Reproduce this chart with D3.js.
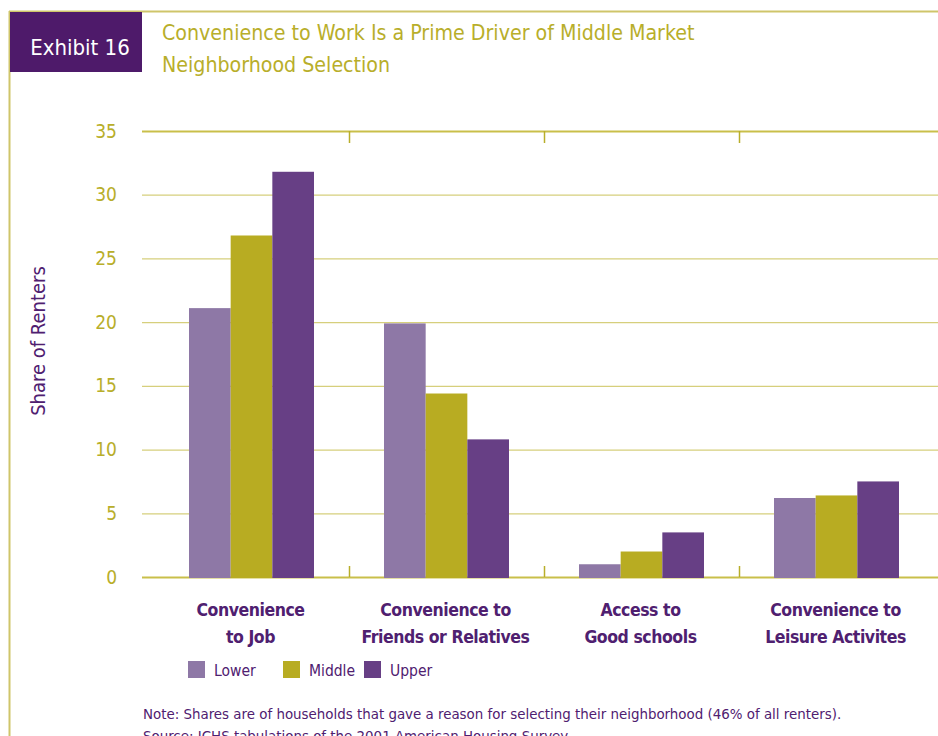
<!DOCTYPE html>
<html>
<head>
<meta charset="utf-8">
<script src="https://cdn.jsdelivr.net/npm/d3@7"></script>
<style>
  body { margin: 0; background: #fff; }
  text { font-family: "DejaVu Sans Condensed", "DejaVu Sans", sans-serif; }
</style>
</head>
<body>
<div id="chart"></div>
<script>
// chart data
var categories = [
  ["Convenience", "to Job"],
  ["Convenience to", "Friends or Relatives"],
  ["Access to", "Good schools"],
  ["Convenience to", "Leisure Activites"]
];
var seriesNames = ["Lower", "Middle", "Upper"];
var lowerValues = [21.1, 19.9, 1.0, 6.2];
var middleValues = [26.8, 14.4, 2.0, 6.4];
var upperValues = [31.8, 10.8, 3.5, 7.5];
var yTicks = [0, 5, 10, 15, 20, 25, 30, 35];

var colors = { Lower: "#8e78a6", Middle: "#b8ac22", Upper: "#673f85" };
var gold = "#b8ae2a";
var purpleText = "#4f2070";

var svgWidth = 938, svgHeight = 736;

var svg = d3.select("#chart").append("svg")
  .attr("width", svgWidth)
  .attr("height", svgHeight);

// frame lines
svg.append("line").attr("x1", 9).attr("x2", svgWidth).attr("y1", 11.5).attr("y2", 11.5)
  .attr("stroke", "#cfc56a").attr("stroke-width", 2);
svg.append("line").attr("x1", 9.5).attr("x2", 9.5).attr("y1", 11).attr("y2", svgHeight)
  .attr("stroke", "#cfc56a").attr("stroke-width", 2);

// exhibit box
svg.append("rect").attr("x", 10).attr("y", 12).attr("width", 132).attr("height", 60)
  .attr("fill", "#4e1a6a");
svg.append("text").attr("x", 80).attr("y", 55).attr("text-anchor", "middle")
  .attr("fill", "#fff").attr("font-size", 22).text("Exhibit 16");

// title
var title = svg.append("text").attr("fill", gold).attr("font-size", 21.2);
title.append("tspan").attr("x", 162).attr("y", 40)
  .text("Convenience to Work Is a Prime Driver of Middle Market");
title.append("tspan").attr("x", 162).attr("y", 72)
  .text("Neighborhood Selection");

// scales
var x0 = d3.scaleBand()
  .domain(d3.range(categories.length))
  .range([154, 934]);
var x1 = d3.scaleBand()
  .domain(seriesNames)
  .range([35, 160]);
var y = d3.scaleLinear().domain([0, 35]).range([577, 131]);

// gridlines
svg.append("g").selectAll("line").data(yTicks).enter().append("line")
  .attr("x1", 142).attr("x2", svgWidth)
  .attr("y1", d => y(d) + 0.5).attr("y2", d => y(d) + 0.5)
  .attr("stroke", d => d === 0 || d === 35 ? "#c9bf4a" : "#d6cf7c")
  .attr("stroke-width", d => d === 0 || d === 35 ? 2 : 1.2);

// y axis labels
var leftAxis = d3.axisLeft(y).tickValues(yTicks).tickSize(0).tickPadding(0);
var yAxisG = svg.append("g").attr("transform", "translate(117,0)").call(leftAxis);
yAxisG.select(".domain").remove();
yAxisG.selectAll("text").attr("fill", gold).attr("font-size", 19)
  .attr("font-family", "DejaVu Sans Condensed, sans-serif");

// category separator ticks
var seps = d3.range(1, categories.length).map(i => x0(i));
svg.append("g").selectAll("line").data(seps).enter().append("line")
  .attr("x1", d => d + 0.5).attr("x2", d => d + 0.5)
  .attr("y1", 131).attr("y2", 143)
  .attr("stroke", gold).attr("stroke-width", 1.5);
svg.append("g").selectAll("line").data(seps).enter().append("line")
  .attr("x1", d => d + 0.5).attr("x2", d => d + 0.5)
  .attr("y1", 566).attr("y2", 577)
  .attr("stroke", gold).attr("stroke-width", 1.5);

// bars
var rows = categories.map((c, i) => ({
  i: i,
  vals: [
    { key: "Lower", v: lowerValues[i] },
    { key: "Middle", v: middleValues[i] },
    { key: "Upper", v: upperValues[i] }
  ]
}));

svg.append("g").selectAll("g").data(rows).enter().append("g")
  .attr("transform", d => `translate(${x0(d.i)},0)`)
  .selectAll("rect").data(d => d.vals).enter().append("rect")
  .attr("x", d => x1(d.key))
  .attr("width", x1.bandwidth())
  .attr("y", d => y(d.v))
  .attr("height", d => y(0) - y(d.v) + 1)
  .attr("fill", d => colors[d.key]);

// category labels
var catText = svg.append("g").selectAll("text").data(categories).enter().append("text")
  .attr("text-anchor", "middle")
  .attr("fill", purpleText)
  .attr("font-size", 17.5)
  .attr("font-weight", "bold")
  .attr("letter-spacing", -0.45);
catText.append("tspan")
  .attr("x", (d, i) => x0(i) + x0.bandwidth() / 2 - 1)
  .attr("y", 616)
  .text(d => d[0]);
catText.append("tspan")
  .attr("x", (d, i) => x0(i) + x0.bandwidth() / 2 - 1)
  .attr("y", 643)
  .text(d => d[1]);

// y axis title
svg.append("text")
  .attr("transform", "translate(45,341) rotate(-90)")
  .attr("text-anchor", "middle")
  .attr("fill", purpleText)
  .attr("font-size", 20)
  .text("Share of Renters");

// legend
var legendX = [188, 283, 364];
var legend = svg.append("g").selectAll("g").data(seriesNames).enter().append("g")
  .attr("transform", (d, i) => `translate(${legendX[i]},661)`);
legend.append("rect").attr("width", 17).attr("height", 17)
  .attr("fill", d => colors[d]);
legend.append("text").attr("x", 26).attr("y", 15)
  .attr("fill", purpleText).attr("font-size", 15.5)
  .text(d => d);

// notes
svg.append("text").attr("x", 143).attr("y", 719)
  .attr("fill", purpleText).attr("font-size", 14.9)
  .text("Note: Shares are of households that gave a reason for selecting their neighborhood (46% of all renters).");
svg.append("text").attr("x", 143).attr("y", 741)
  .attr("fill", purpleText).attr("font-size", 14.9)
  .text("Source: JCHS tabulations of the 2001 American Housing Survey.");
</script>
</body>
</html>
